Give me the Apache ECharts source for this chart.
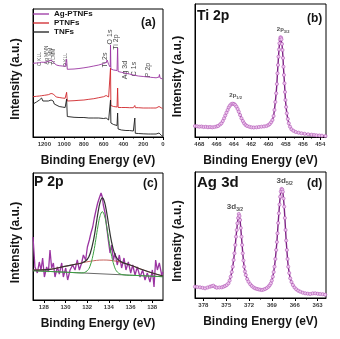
<!DOCTYPE html>
<html>
<head>
<meta charset="utf-8">
<script src="https://cdn.jsdelivr.net/npm/echarts@6/dist/echarts.min.js"></script>
<style>
  html, body { margin: 0; padding: 0; background: #fff; }
  #chart { width: 340px; height: 339px; }
</style>
</head>
<body>
<div id="chart"></div>
<script>
// ---- (a) survey spectra: shared binding-energy grid (eV) ----
const surveyEnergy = [1315,1280,1250,1228,1222,1215,1200,1160,1140,1132,1125,1110,1100,1080,1050,1020,990,980,975,968,950,900,850,800,750,700,650,600,575,565,560,550,540,534,531,527,520,500,480,465,459,454,445,420,400,375,369,365,340,300,290,285,280,250,200,150,135,130,125,100,70,50,40,36,30,22,15,5,0];
const agPtnfs = [73.7,74,74.3,74.8,75.2,74.7,74.7,75.5,76,77,77.5,75,73,72,71.3,71,70.7,71,77.7,67.7,67.7,68,68.5,69.2,70,71,72,73.5,74.5,77,75,72.5,71,70,92,68,67.5,67,66.7,66.5,89,65.5,65.2,64.7,64.2,63.7,65.7,63.5,63,62,61.8,64,61.5,61,60.5,60,59.8,60.5,59.7,59.5,59.2,59,60,62.5,59,60,58.5,58,58];
const ptnfs = [40.3,40.7,41,41.3,41.5,41.5,41.7,42.3,42.7,43.5,44.5,43,41,40,39.5,39,38.7,39,44.7,36,36,36.3,36.7,37,37.7,38.3,39.3,40.3,41.5,43.5,42,40,39,38,69,31.5,30.5,30.5,30.3,30,49,29.5,29.5,29.5,29.5,29.5,29.5,29.5,29.3,29.3,29.5,31.5,29.3,29.3,29,29,29,29,29,29,29,29.5,30.5,32.5,30,30.5,29,28.7,28.7];
const tnfs = [33,35,37,39,39.5,36,35.5,36,36.5,37,37.5,36,33,31,30.5,30,29.5,30,38,20.5,20,19.7,19.5,19.5,19,19,19,18.5,19,20,18.5,17,16,16,37,14,13.5,12.5,12,11.5,24,8,7.5,7,7,6.5,6.5,6.5,6.5,6,6,19,3.7,3.5,3.2,3,3,3,3,3,3,3,4,5.5,3,2,1.5,1,1];

// peak annotations of the survey
const augerNames = ['C KLL', 'Ag MNN', 'Ti LMM', 'Ti LMM', 'O KLL'];
const augerEnergy = [1243, 1177, 1141, 1106, 988];
const augerHeight = [78, 82, 81, 80, 77];
const coreNames = ['Ti 2s', 'O 1s', 'Ti 2p', 'Ag 3d', 'C 1s', 'P 2p'];
const coreEnergy = [586, 540, 472, 384, 292, 153];
const coreHeight = [77, 100, 95, 67, 68, 67];

// ---- (b) Ti 2p high resolution [eV, counts] ----
const ti2p = [[468.5,11],[468.25,10.7],[468.0,10.3],[467.75,10.5],[467.5,10],[467.25,10.2],[467.0,9.8],[466.75,10],[466.5,9.7],[466.25,10],[466.0,10.5],[465.83,11],[465.6,12.5],[465.44,13.7],[465.28,16],[465.13,18.7],[465.0,21.5],[464.86,24.3],[464.72,27],[464.59,29.7],[464.45,31.5],[464.28,33],[464.12,33.3],[463.97,33],[463.84,32],[463.70,30.3],[463.56,28],[463.43,25.3],[463.28,22],[463.12,18.7],[462.96,16],[462.81,13.7],[462.64,12],[462.46,11],[462.2,10.2],[461.96,9.7],[461.7,9.5],[461.38,9.7],[461.1,10],[460.8,10.3],[460.5,10.6],[460.22,11],[460.0,12],[459.84,13],[459.68,14.8],[459.53,17],[459.40,21],[459.30,27],[459.20,35],[459.10,43.7],[459.02,53],[458.95,63.7],[458.89,72],[458.83,80.3],[458.77,87.5],[458.72,93.7],[458.66,97.5],[458.60,99.7],[458.54,99.3],[458.49,97.7],[458.43,93],[458.37,87],[458.31,79],[458.26,70.3],[458.20,62],[458.14,53.7],[458.08,45],[458.03,37],[457.95,30],[457.87,23.7],[457.75,18],[457.64,13.7],[457.5,10.3],[457.33,7.7],[457.1,6.2],[456.83,5],[456.5,4.3],[456.17,3.7],[455.8,3.2],[455.4,2.7],[455.0,2.3],[454.7,2],[454.43,1.7],[454.1,1.5],[453.8,1.3],[453.39,1]];
const ti2pPeaks = [{main: '2p', sub: '3/2', at: [458.3, 108]}, {main: '2p', sub: '1/2', at: [463.8, 41.5]}];

// ---- (c) P 2p: raw counts and fit components [eV, counts] ----
const p2pRaw = [[127.00,63],[127.18,33],[127.40,27],[127.58,38],[127.74,30],[127.89,42],[128.05,23],[128.26,33],[128.42,28],[128.57,50],[128.72,32],[128.88,37],[129.03,23],[129.25,33],[129.43,26],[129.65,37],[129.80,23],[130.02,32],[130.20,20],[130.42,30],[130.66,35],[130.88,30],[131.09,40],[131.28,30],[131.49,37],[131.65,45],[131.86,40],[132.02,53],[132.20,60],[132.35,67],[132.51,73],[132.66,82],[132.82,90],[132.97,97],[133.12,102],[133.28,107],[133.40,103],[133.49,95],[133.65,87],[133.80,73],[133.95,60],[134.11,47],[134.26,55],[134.42,40],[134.57,47],[134.78,35],[134.97,45],[135.18,32],[135.40,42],[135.58,30],[135.80,38],[136.02,27],[136.20,35],[136.42,25],[136.63,33],[136.88,23],[137.12,30],[137.34,20],[137.55,27],[137.80,18],[138.02,30],[138.17,13],[138.32,40],[138.48,30],[138.66,37],[138.88,25],[139.0,28]];
const p2pBackground = [[127, 29.3], [139, 23.3]];
const p2pMain = [[127,29.3],[129,28.3],[130.5,27.55],[131.5,27.1],[132.0,29.2],[132.3,35.0],[132.6,48.1],[132.8,60.7],[133.0,74.1],[133.2,84.4],[133.4,88.3],[133.6,84.2],[133.8,73.7],[134.0,60.1],[134.2,47.3],[134.5,33.9],[134.8,27.8],[135.3,25.3],[136.5,24.55],[139,23.3]];
const p2pBroad = [[127.03,30],[128.57,30.7],[129.8,33.3],[131.03,36],[132.26,38.7],[133.49,40],[134.72,38.7],[135.96,35],[137.19,30],[138.1,26.7],[139,24]];
const p2pEnvelope = [[127,30],[128.57,30.7],[129.8,33.3],[131.03,36],[131.5,37],[132.0,40.5],[132.3,47.2],[132.6,60.7],[132.8,73.6],[133.0,87.4],[133.2,98],[133.4,102.2],[133.6,98.2],[133.8,87.6],[134.0,73.9],[134.2,60.9],[134.5,47.4],[134.8,40.9],[135.3,37.35],[135.96,35],[137.19,30],[138.1,26.7],[139,24]];

// ---- (d) Ag 3d high resolution [eV, counts] ----
const ag3d = [[379.1,11.3],[378.8,11],[378.44,10.7],[378.1,10.2],[377.78,9.7],[377.45,10.5],[377.13,11.3],[376.9,11.8],[376.69,12.3],[376.45,11],[376.25,10.3],[375.9,10.5],[375.59,10.7],[375.35,11.3],[375.15,12],[374.93,13],[374.71,14.7],[374.55,17.5],[374.41,21.3],[374.27,26],[374.14,31.3],[374.03,38],[373.92,44.7],[373.81,53],[373.71,61.3],[373.62,68],[373.53,74.7],[373.44,80],[373.35,84],[373.26,82],[373.18,78],[373.09,70],[373.00,61.3],[372.91,53],[372.83,44.7],[372.74,37.5],[372.65,31.3],[372.54,26.5],[372.43,23],[372.25,19],[372.08,16.3],[371.85,13.8],[371.64,12],[371.42,10.6],[371.21,9.7],[370.99,9.1],[370.77,8.7],[370.55,8.3],[370.33,8],[370.11,8.4],[369.89,9],[369.67,10],[369.45,11.3],[369.30,12.8],[369.14,14.7],[369.01,17.5],[368.88,21.3],[368.77,26],[368.66,31.3],[368.55,39],[368.44,48],[368.35,56],[368.27,64.7],[368.18,75],[368.09,84.7],[368.00,93.5],[367.92,101.3],[367.83,106.5],[367.74,109],[367.65,108.5],[367.57,106.3],[367.48,99.5],[367.39,91.3],[367.30,80],[367.21,68],[367.13,57.5],[367.04,48],[366.95,39],[366.86,31.3],[366.73,25],[366.60,19.7],[366.43,16],[366.25,13],[366.03,10.5],[365.81,8.7],[365.55,7.3],[365.28,6.3],[364.95,5.3],[364.63,4.7],[364.3,4.3],[363.97,4],[363.64,4.6],[363.31,4.7],[362.98,4.2],[362.66,4],[362.33,3.8],[362.0,3.3]];
const ag3dPeaks = [{main: '3d', sub: '5/2', at: [367.32, 117]}, {main: '3d', sub: '3/2', at: [373.85, 91.5]}];

// ---- axis ticks ----
const surveyTicks = [0, 200, 400, 600, 800, 1000, 1200];
const surveyMinor = [100, 300, 500, 700, 900, 1100];
const ti2pTicks = [454, 456, 458, 460, 462, 464, 466, 468];
const ti2pMinor = [455, 457, 459, 461, 463, 465, 467];
const p2pTicks = [128, 130, 132, 134, 136, 138];
const p2pMinor = [129, 131, 133, 135, 137];
const ag3dTicks = [363, 366, 369, 372, 375, 378];
const ag3dMinor = [364.5, 367.5, 370.5, 373.5, 376.5];

const FONT = '"Liberation Sans", Arial, Helvetica, sans-serif';
const PURPLE = '#9b35a2';
const RED = '#d0262a';
const BLACK = '#1c1c1c';
const INK = '#141414';

const zip = (xs, ys) => xs.map((x, i) => [x, ys[i]]);

const panels = [
  { left: 33, top: 9, width: 130, height: 128 },
  { left: 195, top: 4, width: 131, height: 133 },
  { left: 33, top: 173, width: 130, height: 127 },
  { left: 195, top: 172, width: 131, height: 126 }
];

function mainX(i, min, max, inverse, ticks) {
  return {
    type: 'value', gridIndex: i, min: min, max: max, inverse: inverse, position: 'bottom',
    name: 'Binding Energy (eV)', nameLocation: 'middle', nameGap: 18,
    nameTextStyle: { fontFamily: FONT, fontSize: 12, fontWeight: 'bold', color: INK },
    axisLine: { show: true, onZero: false, lineStyle: { color: '#000', width: 1 } },
    axisTick: { show: true, inside: false, length: 3, customValues: ticks, lineStyle: { color: '#000', width: 1 } },
    axisLabel: { show: true, customValues: ticks, formatter: v => String(v),
      fontFamily: FONT, fontSize: 6, fontWeight: 'bold', color: '#3a3a3a', margin: 4 },
    splitLine: { show: false }
  };
}
function minorX(i, min, max, inverse, ticks) {
  return {
    type: 'value', gridIndex: i, min: min, max: max, inverse: inverse, position: 'bottom',
    axisLine: { show: false }, axisLabel: { show: false }, splitLine: { show: false },
    axisTick: { show: true, inside: false, length: 1.5, customValues: ticks, lineStyle: { color: '#000', width: 1 } }
  };
}
function yAxisFor(i, max) {
  return {
    type: 'value', gridIndex: i, min: 0, max: max,
    name: 'Intensity (a.u.)', nameLocation: 'middle', nameGap: 11,
    nameTextStyle: { fontFamily: FONT, fontSize: 12, fontWeight: 'bold', color: INK, padding: [0, 12, 0, 0] },
    axisLine: { show: true, onZero: false, lineStyle: { color: '#000', width: 1 } },
    axisTick: { show: false }, axisLabel: { show: false }, splitLine: { show: false }
  };
}
function titleAt(text, left, top, size) {
  return { text: text, left: left, top: top, padding: 0,
    textStyle: { fontFamily: FONT, fontSize: size, fontWeight: 'bold', color: INK } };
}
function textMarks(names, energies, heights, axis, size, rotate) {
  return {
    type: 'scatter', xAxisIndex: axis, yAxisIndex: axis, symbolSize: 1, silent: true,
    itemStyle: { color: 'rgba(0,0,0,0)' },
    data: names.map((n, k) => ({ name: n, value: [energies[k], heights[k]] })),
    label: { show: true, position: 'inside', rotate: rotate, formatter: '{b}',
      fontFamily: FONT, fontSize: size, color: '#111' }
  };
}
function peakMarks(peaks, axis, mainSize, subSize) {
  return {
    type: 'scatter', xAxisIndex: axis, yAxisIndex: axis, symbolSize: 1, silent: true,
    itemStyle: { color: 'rgba(0,0,0,0)' },
    data: peaks.map(p => ({ value: p.at, main: p.main, sub: p.sub })),
    label: { show: true, position: 'inside',
      formatter: prm => '{m|' + prm.data.main + '}{s|' + prm.data.sub + '}',
      rich: {
        m: { fontFamily: FONT, fontSize: mainSize, fontWeight: 'bold', color: '#222', lineHeight: mainSize + 3 },
        s: { fontFamily: FONT, fontSize: subSize, fontWeight: 'bold', color: '#222', lineHeight: subSize, verticalAlign: 'bottom' }
      } }
  };
}
function spectrum(axis, data, color) {
  return {
    type: 'line', xAxisIndex: axis, yAxisIndex: axis, data: data, silent: true,
    symbol: 'circle', symbolSize: 3.2, showSymbol: true,
    lineStyle: { color: '#7d2384', width: 1.4 },
    itemStyle: { color: '#ecc6ec', borderColor: color, borderWidth: 0.6 }
  };
}
function fitLine(axis, data, color, width, smooth) {
  return {
    type: 'line', xAxisIndex: axis, yAxisIndex: axis, data: data, silent: true,
    symbol: 'none', smooth: smooth, lineStyle: { color: color, width: width }
  };
}

const chart = echarts.init(document.getElementById('chart'), null, { renderer: 'canvas' });
chart.setOption({
  animation: false,
  backgroundColor: '#fff',
  grid: panels.map(p => Object.assign({ show: true, borderColor: '#000', borderWidth: 1, containLabel: false }, p)),
  title: [
    titleAt('(a)', 141, 17, 12),
    titleAt('Ti 2p', 197, 9, 14),
    titleAt('(b)', 307, 13, 12),
    titleAt('P 2p', 34, 175, 14),
    titleAt('(c)', 143, 178, 12),
    titleAt('Ag 3d', 197, 175, 15),
    titleAt('(d)', 307, 178, 12)
  ],
  legend: {
    data: ['Ag-PTNFs', 'PTNFs', 'TNFs'], orient: 'vertical', left: 33, top: 10,
    icon: 'rect', itemWidth: 16, itemHeight: 1.3, itemGap: 1, selectedMode: false, padding: 0,
    textStyle: { fontFamily: FONT, fontSize: 8, fontWeight: 'bold', color: INK, lineHeight: 8 }
  },
  xAxis: [
    mainX(0, 0, 1315, true, surveyTicks),
    mainX(1, 453.33, 468.5, true, ti2pTicks),
    mainX(2, 127, 139, false, p2pTicks),
    mainX(3, 361.9, 379.1, true, ag3dTicks),
    minorX(0, 0, 1315, true, surveyMinor),
    minorX(1, 453.33, 468.5, true, ti2pMinor),
    minorX(2, 127, 139, false, p2pMinor),
    minorX(3, 361.9, 379.1, true, ag3dMinor)
  ],
  yAxis: [yAxisFor(0, 128), yAxisFor(1, 133), yAxisFor(2, 127), yAxisFor(3, 126)],
  series: [
    { name: 'Ag-PTNFs', type: 'line', xAxisIndex: 0, yAxisIndex: 0, symbol: 'none', silent: true,
      data: zip(surveyEnergy, agPtnfs), lineStyle: { color: PURPLE, width: 0.9 }, itemStyle: { color: PURPLE } },
    { name: 'PTNFs', type: 'line', xAxisIndex: 0, yAxisIndex: 0, symbol: 'none', silent: true,
      data: zip(surveyEnergy, ptnfs), lineStyle: { color: RED, width: 0.9 }, itemStyle: { color: RED } },
    { name: 'TNFs', type: 'line', xAxisIndex: 0, yAxisIndex: 0, symbol: 'none', silent: true,
      data: zip(surveyEnergy, tnfs), lineStyle: { color: BLACK, width: 0.9 }, itemStyle: { color: BLACK } },
    textMarks(augerNames, augerEnergy, augerHeight, 0, 5, 90),
    textMarks(coreNames, coreEnergy, coreHeight, 0, 7, 90),

    spectrum(1, ti2p, '#b055b5'),
    peakMarks(ti2pPeaks, 1, 6, 4),

    fitLine(2, p2pRaw, PURPLE, 1.3, false),
    fitLine(2, p2pBackground, '#6a6a6a', 1, false),
    fitLine(2, p2pBroad, '#c0504a', 0.9, 0.4),
    fitLine(2, p2pMain, '#3aa040', 1, 0.4),
    fitLine(2, p2pEnvelope, '#333333', 1.2, 0.4),

    spectrum(3, ag3d, '#b055b5'),
    peakMarks(ag3dPeaks, 3, 8, 5)
  ]
});
</script>
</body>
</html>
